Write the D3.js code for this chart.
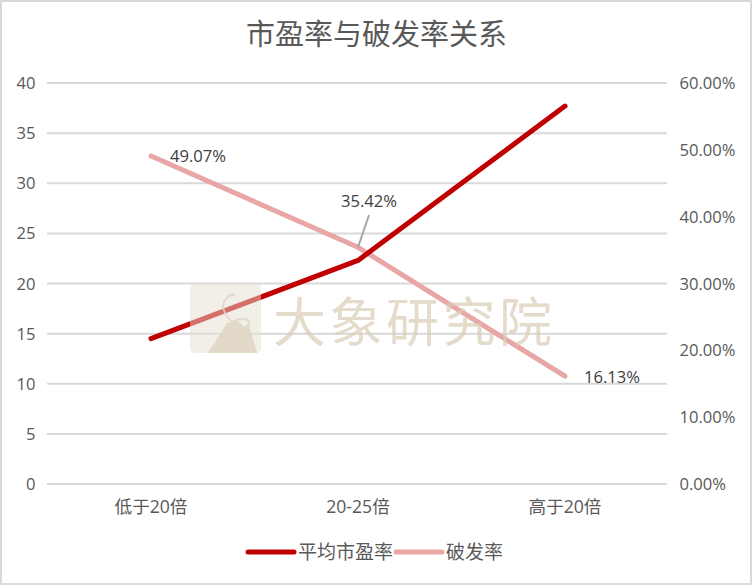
<!DOCTYPE html>
<html><head><meta charset="utf-8">
<script src="https://cdnjs.cloudflare.com/ajax/libs/d3/7.8.5/d3.min.js"></script>
<style>html,body{margin:0;padding:0;background:#fff}svg{display:block}
text{font-family:"Open Sans","Noto Sans CJK SC",sans-serif;fill:#595959}</style></head><body>
<script>
const categories=["低于20倍","20-25倍","高于20倍"];
const peValues=[14.5,22.3,37.7];
const breakValues=[0.4907,0.3542,0.1613];
const leftTicks=[0,5,10,15,20,25,30,35,40];
const rightTicks=[0,0.1,0.2,0.3,0.4,0.5,0.6];
const title="市盈率与破发率关系";
const seriesNames=["平均市盈率","破发率"];
const colors=["#c00000","#e8a6a6"];
const W=752,H=585;
const svg=d3.select("body").append("svg").attr("width",W).attr("height",H);
svg.append("rect").attr("x",1).attr("y",1).attr("width",W-2).attr("height",H-2).attr("fill","#fff").attr("stroke","#d9d9d9").attr("stroke-width",2);
const x=d3.scalePoint().domain(categories).range([151,565]);
const yL=d3.scaleLinear().domain([0,40]).range([484,83]);
const yR=d3.scaleLinear().domain([0,0.6]).range([484,83]);
svg.append("text").attr("x",376.5).attr("y",45).attr("text-anchor","middle").attr("font-size",29).text(title);
svg.append("g").selectAll("line").data(leftTicks).join("line").attr("x1",47).attr("x2",667)
 .attr("y1",d=>yL(d)).attr("y2",d=>yL(d)).attr("stroke","#d9d9d9").attr("stroke-width",2);
svg.append("g").selectAll("text").data(leftTicks).join("text").attr("x",35.5).attr("y",d=>yL(d)+6).attr("text-anchor","end").attr("font-size",16.6).text(d=>d);
svg.append("g").selectAll("text").data(rightTicks).join("text").attr("x",679.5).attr("y",d=>yR(d)+6).attr("font-size",16.6).text(d3.format(".2%"));
svg.append("g").selectAll("text").data(categories).join("text").attr("x",d=>x(d)).attr("y",513).attr("text-anchor","middle").attr("font-size",17.6).text(d=>d);
const lineB=d3.line().x((d,i)=>x(categories[i])).y(d=>yR(d));
const lineP=d3.line().x((d,i)=>x(categories[i])).y(d=>yL(d));
svg.append("path").attr("d",lineB(breakValues)).attr("fill","none").attr("stroke",colors[1]).attr("stroke-width",5).attr("stroke-linecap","round").attr("stroke-linejoin","round");
svg.append("path").attr("d",lineP(peValues)).attr("fill","none").attr("stroke",colors[0]).attr("stroke-width",5).attr("stroke-linecap","round").attr("stroke-linejoin","round");
svg.append("line").attr("x1",x(categories[1])).attr("y1",yR(breakValues[1])).attr("x2",369).attr("y2",215).attr("stroke","#a6a6a6").attr("stroke-width",2);
const labelOffsets=[[47,0],[11,-46],[47,1]];
svg.append("g").selectAll("text").data(breakValues).join("text")
 .attr("x",(d,i)=>x(categories[i])+labelOffsets[i][0]).attr("y",(d,i)=>yR(d)+labelOffsets[i][1]+6).attr("text-anchor","middle").attr("font-size",16.6).style("fill","#404040").text(d3.format(".2%"));
const wm=svg.append("g");
wm.append("rect").attr("x",190).attr("y",283).attr("width",71).attr("height",70).attr("rx",5).attr("fill","#e6dfd1").attr("fill-opacity",.5);
wm.append("path").attr("d","M208 353 L227 323 L233 322 Q240 320 243 326 Q247 327 248 322 L257 353 Z").attr("fill","#dfd5c3").attr("fill-opacity",.85);
wm.append("path").attr("d","M235 294 Q224 296 223 306 Q224 316 233 322 Q242 317 248 320 Q250 324 247 326").attr("fill","none").attr("stroke","#dfd5c3").attr("stroke-width",2).attr("stroke-opacity",.85);
wm.append("text").attr("x",273).attr("y",342).attr("font-size",53).attr("textLength",279).style("fill","#d9ccb5").attr("fill-opacity",.7).text("大象研究院");
const lg=svg.append("g");
const lgX=[248,396],txtX=[298,446],lineLen=46;
seriesNames.forEach((n,i)=>{
 lg.append("line").attr("x1",lgX[i]).attr("x2",lgX[i]+lineLen).attr("y1",552).attr("y2",552).attr("stroke",colors[i]).attr("stroke-width",5).attr("stroke-linecap","round");
 lg.append("text").attr("x",txtX[i]).attr("y",559).attr("font-size",19).text(n);
});
</script></body></html>
